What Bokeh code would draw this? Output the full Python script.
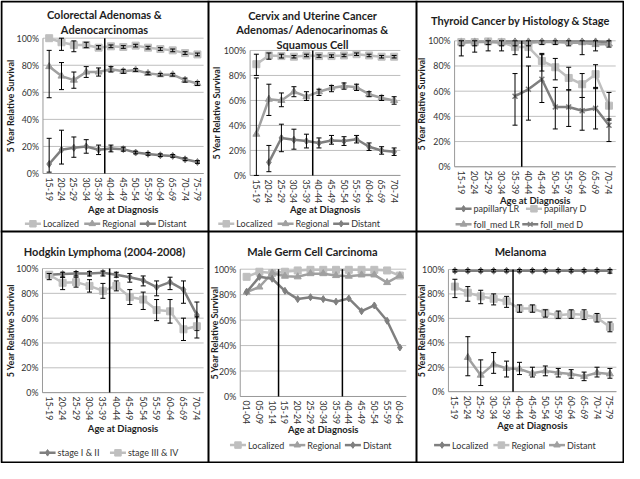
import math
from bokeh.plotting import figure
from bokeh.models import Range1d
from bokeh.core.properties import value
from bokeh.embed import file_html
from bokeh.resources import INLINE

W, H = 624, 463
PW, PH = 208, 231
SX, SY = PW / 213.0, PH / 239.0
FONT = value("Lato")
LIGHT = "#BFBFBF"
MID = "#A0A0A0"
DARK = "#7F7F7F"
GRID = "#BFBFBF"
AXC = "#9A9A9A"
TXT = "#333333"
TTL = "#1E1E1E"

# ---------------- data ----------------
ages_15_79 = ["15-19", "20-24", "25-29", "30-34", "35-39", "40-44", "45-49",
              "50-54", "55-59", "60-64", "65-69", "70-74", "75-79"]
ages_15_74 = ["15-19", "20-24", "25-29", "30-34", "35-39", "40-44", "45-49",
              "50-54", "55-59", "60-64", "65-69", "70-74"]
ages_01_64 = ["01-04", "05-09", "10-14", "15-19", "20-24", "25-29", "30-34",
              "35-39", "40-44", "45-49", "50-54", "55-59", "60-64"]
y_ticks = [0, 20, 40, 60, 80, 100]
y_labels = ["0%", "20%", "40%", "60%", "80%", "100%"]

# Colorectal
cr_loc = [100, 97, 95, 95, 93, 94, 93.5, 94.5, 93, 92, 91, 89, 88]
cr_loc_lo = [None, 91, 90, 93, 92, 93, 92.5, 93.5, 92, 91, 90, 88, 87]
cr_loc_hi = [None, 100, 98, 97, 94.5, 95, 94.5, 95.5, 94, 93, 92, 90, 89]
cr_reg = [79, 72, 69, 75, 75, 77, 75.5, 76.5, 74, 73, 73, 69, 66.5]
cr_reg_lo = [56, 62, 63, 71, 72, 75, 74, 75.5, 73, 72, 72, 67.5, 65]
cr_reg_hi = [91, 82, 75, 79, 78, 79, 77, 77.5, 75, 74, 74, 70.5, 68]
cr_dis = [7, 17.5, 19, 20, 17.5, 18.5, 18, 15.5, 14.5, 13.5, 13, 10.5, 8.5]
cr_dis_lo = [1, 7, 12, 15, 14, 16, 16.5, 14.5, 13.5, 12.5, 12, 9.5, 7.5]
cr_dis_hi = [26, 32, 27, 25, 21, 21, 19.5, 16.5, 15.5, 14.5, 14, 11.5, 9.5]

# Cervix / uterine
cv_loc = [89, 96, 95.5, 95, 96, 95.5, 95.5, 96, 97, 96, 95, 95]
cv_loc_lo = [80, 93, 94, 94, 95, 94.5, 94.5, 95, 96, 95, 94, 94]
cv_loc_hi = [97, 98, 97, 96, 97, 96.5, 96.5, 97, 98, 97, 96, 96]
cv_reg = [33, 61, 60, 67, 63, 67, 70, 71.5, 70.5, 65, 62, 60]
cv_reg_lo = [0, 48, 55, 63, 60, 64, 67, 69, 68, 63, 60, 57]
cv_reg_hi = [78, 73, 66, 71, 67, 69, 72, 74, 73, 67, 64, 63]
cv_dis = [None, 10.5, 30, 28.5, 27.5, 26, 28, 27.5, 29, 23, 20, 19]
cv_dis_lo = [None, 3, 19, 21, 22, 22, 25, 24, 26, 20, 17, 16]
cv_dis_hi = [None, 24, 41, 37, 33, 30, 32, 31, 32, 26, 23, 22]

# Thyroid
th_plr = [99.5, 99.5, 99.5, 99.5, 99.5, 99.5, 99.5, 99.5, 99.5, 99.5, 99.5, 99]
th_pd = [99, 99, 99.5, 99, 95, 95, 84, 79, 70.5, 65.5, 73.5, 48.5]
th_pd_lo = [88, 91, 92, 92, 89, 87, 76, 69, 61, 55, 62, 37]
th_pd_hi = [100, 100, 100, 100, 99, 99, 90, 86, 79, 74, 81, 59]
th_flr = [98.5, 99, 99, 98.5, 98.5, 98.5, 99, 99, 98.5, 98.5, 97, 97.5]
th_flr_lo = [96, 96, 97, 96, 96, 96, 97, 97, 96, 89, 92, 95]
th_flr_hi = [100, 100, 100, 100, 100, 100, 100, 100, 100, 100, 100, 100]
th_fd = [None, None, None, None, 56, 61.5, 69.5, 47.5, 47.5, 44.5, 46.5, 33]
th_fd_lo = [None, None, None, None, 33, 37, 51, 30, 32, 29, 30, 20]
th_fd_hi = [None, None, None, None, 74, 80, 89, 63, 61, 55, 63, 38]

# Hodgkin
hd_12 = [95, 95.5, 96, 96, 96.5, 95, 93, 90.5, 85, 89, 83, 62.5]
hd_12_lo = [93, 93, 94, 94, 94, 93, 89, 86, 78, 83, 72, 50]
hd_12_hi = [97, 97, 97.5, 97.5, 98, 97, 96, 94, 90, 93, 90, 73]
hd_34 = [95, 88.5, 89, 86, 82, 86, 77, 75, 66.5, 65.5, 51, 53.5]
hd_34_lo = [91, 83, 85, 81, 76, 82, 71, 67, 58, 56, 42, 44]
hd_34_hi = [96, 93, 93, 91, 88, 90, 83, 81, 75, 75, 60, 61]

# Male germ cell
mg_loc = [94, 98, 97, 98, 99, 99.5, 99.5, 99.5, 99.5, 99.5, 99.5, 99, 95]
mg_reg = [82, 86, 97, 94.5, 94, 96.5, 96.5, 95, 94.5, 95.5, 95.5, 89.5, 95]
mg_dis = [82, 94, 92.5, 83, 76.5, 78, 76.5, 74.5, 77, 67, 71.5, 59.5, 38.5]

# Melanoma
ml_loc = [99, 99, 99, 99, 99, 99, 99, 99, 99, 99, 99, 99, 99]
ml_loc_lo = [98, 98, 98, 98, 98, 98, 98, 98, 98, 98, 98, 98, 97]
ml_loc_hi = [100, 100, 100, 100, 100, 100, 100, 100, 100, 100, 100, 100, 100]
ml_reg = [86, 81, 78, 76, 74, 68, 68, 64.5, 62.5, 63.5, 63, 60.5, 53]
ml_reg_lo = [77, 74, 72, 71, 69, 65, 65, 61, 60, 60, 59, 57, 49]
ml_reg_hi = [92, 86, 83, 80, 78, 71, 71, 67, 66, 67, 67, 64, 57]
ml_dis = [None, 28, 13.5, 22.5, 19, 18.5, 15, 17, 15.5, 14.5, 12.5, 15.5, 14.5]
ml_dis_lo = [None, 13, 5, 15, 12, 14, 12, 13, 12, 11, 9, 12, 11]
ml_dis_hi = [None, 45, 26, 32, 25, 24, 20, 21, 19, 18, 16, 20, 19]

# ---------------- figure ----------------
p = figure(width=W, height=H, x_range=Range1d(0, W), y_range=Range1d(0, H),
           x_axis_type=None, y_axis_type=None, output_backend="svg",
           toolbar_location=None, min_border=0)
p.outline_line_color = None
p.background_fill_color = "white"
p.border_fill_color = "white"


def Y(ypix):
    return H - ypix


def txt(x, y, s, size="8.8px", bold=False, color=TXT, align="left",
        baseline="middle", angle=0.0, line_height=1.2, **kw):
    p.text(x=x, y=y, text=s, text_font=FONT, text_font_size=size,
           text_font_style="bold" if bold else "normal", text_color=color,
           text_align=align, text_baseline=baseline, angle=angle,
           text_line_height=line_height, **kw)


def add_panel(col, row, lay, title, cats, series, splits, legend_rows):
    ox, oy = col * PW, row * PH
    L, R = ox + lay["L"] * SX, ox + lay["R"] * SX
    T, B = oy + lay["T"] * SY, oy + lay["B"] * SY
    n = len(cats)
    xs = -L * n / (R - L)
    xe = xs + n * W / (R - L)
    s = (B - T) / 100.0
    ys = -(H - B) / s
    ye = ys + H / s
    key = "%d%d" % (col, row)
    p.extra_x_ranges["x" + key] = Range1d(xs, xe)
    p.extra_y_ranges["y" + key] = Range1d(ys, ye)
    kw = dict(x_range_name="x" + key, y_range_name="y" + key)
    xc = [i + 0.5 for i in range(n)]

    # gridlines and axes
    p.segment(x0=[0] * len(y_ticks), x1=[n] * len(y_ticks), y0=y_ticks,
              y1=y_ticks, line_color=GRID, line_width=1, **kw)
    p.segment(x0=[0, 0], y0=[0, 0], x1=[0, n], y1=[y_ticks[-1], 0],
              line_color=AXC, line_width=1, **kw)
    txt([0] * len(y_ticks), y_ticks, y_labels, align="right", x_offset=-4, **kw)
    txt(xc, [0] * n, cats, angle=-math.pi / 2, y_offset=4, **kw)

    # series
    for name, vals, lo, hi, color, marker in series:
        yv = [float("nan") if v is None else v for v in vals]
        p.line(xc, yv, line_color=color, line_width=2.5, **kw)
        p.scatter(xc, yv, marker=marker, size=7, fill_color=color,
                  line_color=color, line_width=1.5 if marker == "x" else 1, **kw)
        if lo is not None:
            idx = [i for i in range(n) if lo[i] is not None]
            ex = [xc[i] for i in idx]
            elo = [lo[i] for i in idx]
            ehi = [hi[i] for i in idx]
            p.segment(x0=ex, y0=elo, x1=ex, y1=ehi, line_color="black",
                      line_width=1, **kw)
            p.scatter(ex, elo, marker="dash", size=5, line_color="black",
                      line_width=1, **kw)
            p.scatter(ex, ehi, marker="dash", size=5, line_color="black",
                      line_width=1, **kw)

    # age-group dividers
    for sp in splits:
        k = cats.index(sp) + 1
        p.segment(x0=[k], y0=[0], x1=[k], y1=[y_ticks[-1]],
                  line_color="black", line_width=1.5, **kw)

    # texts
    txt([ox + PW / 2.0], [Y(oy + lay["title"] * SY)], [title], size="11px",
        bold=True, color=TTL, align="center", baseline="top", line_height=1.12)
    txt([ox + lay["ylab"] * SX], [Y((T + B) / 2.0)], ["5 Year Relative Survival"],
        size="9px", bold=True, color=TTL, align="center", angle=math.pi / 2)
    txt([(L + R) / 2.0], [Y(oy + lay["xlab"] * SY)], ["Age at Diagnosis"],
        size="9.5px", bold=True, color=TTL, align="center")

    # legend
    by_name = {sr[0]: sr for sr in series}
    for r, names in enumerate(legend_rows):
        yy = Y(oy + lay["leg"][r] * SY)
        x = ox + lay["legx"] * SX
        for nm in names:
            _, _, _, _, color, marker = by_name[nm]
            p.segment(x0=[x], y0=[yy], x1=[x + 16], y1=[yy], line_color=color,
                      line_width=2.5)
            p.scatter([x + 8], [yy], marker=marker, size=6.5, fill_color=color,
                      line_color=color, line_width=1.5 if marker == "x" else 1)
            txt([x + 18], [yy], [nm], size="9px")
            x += 18 + 3.7 * len(nm) + 8


add_panel(0, 0, dict(L=43.5, R=208, T=39, B=179, title=8, ylab=10, xlab=216,
                     leg=[231], legx=25),
          "Colorectal Adenomas &\nAdenocarcinomas", ages_15_79, [
              ("Localized", cr_loc, cr_loc_lo, cr_loc_hi, LIGHT, "square"),
              ("Regional", cr_reg, cr_reg_lo, cr_reg_hi, MID, "triangle"),
              ("Distant", cr_dis, cr_dis_lo, cr_dis_hi, DARK, "diamond"),
          ], ["35-39"], [["Localized", "Regional", "Distant"]])

add_panel(1, 0, dict(L=42.6, R=196.5, T=51.7, B=181, title=8.5, ylab=8.5, xlab=216,
                     leg=[231], legx=10),
          "Cervix and Uterine Cancer\nAdenomas/ Adenocarinomas &\nSquamous Cell",
          ages_15_74, [
              ("Localized", cv_loc, cv_loc_lo, cv_loc_hi, LIGHT, "square"),
              ("Regional", cv_reg, cv_reg_lo, cv_reg_hi, MID, "triangle"),
              ("Distant", cv_dis, cv_dis_lo, cv_dis_hi, DARK, "diamond"),
          ], ["35-39"], [["Localized", "Regional", "Distant"]])

add_panel(2, 0, dict(L=39, R=204, T=41.7, B=172, title=13.5, ylab=5, xlab=207,
                     leg=[215.5, 231.5], legx=40),
          "Thyroid Cancer by Histology & Stage", ages_15_74, [
              ("papillary LR", th_plr, None, None, DARK, "diamond"),
              ("papillary D", th_pd, th_pd_lo, th_pd_hi, LIGHT, "square"),
              ("foll_med LR", th_flr, th_flr_lo, th_flr_hi, MID, "triangle"),
              ("foll_med D", th_fd, th_fd_lo, th_fd_hi, DARK, "x"),
          ], ["35-39"], [["papillary LR", "papillary D"], ["foll_med LR", "foll_med D"]])

add_panel(0, 1, dict(L=43, R=208, T=38.3, B=166.7, title=14, ylab=10, xlab=204,
                     leg=[229], legx=40),
          "Hodgkin Lymphoma (2004-2008)", ages_15_74, [
              ("stage I & II", hd_12, hd_12_lo, hd_12_hi, DARK, "diamond"),
              ("stage III & IV", hd_34, hd_34_lo, hd_34_hi, LIGHT, "square"),
          ], ["35-39"], [["stage I & II", "stage III & IV"]])

add_panel(1, 1, dict(L=32.5, R=202.5, T=39, B=170.7, title=13.5, ylab=6, xlab=205,
                     leg=[221], legx=22),
          "Male Germ Cell Carcinoma", ages_01_64, [
              ("Localized", mg_loc, None, None, LIGHT, "square"),
              ("Regional", mg_reg, None, None, MID, "triangle"),
              ("Distant", mg_dis, None, None, DARK, "diamond"),
          ], ["10-14", "35-39"], [["Localized", "Regional", "Distant"]])

add_panel(2, 1, dict(L=32.7, R=204.7, T=39.3, B=165.7, title=13.5, ylab=5, xlab=201,
                     leg=[221], legx=18),
          "Melanoma", ages_15_79, [
              ("Localized", ml_loc, ml_loc_lo, ml_loc_hi, DARK, "diamond"),
              ("Regional", ml_reg, ml_reg_lo, ml_reg_hi, LIGHT, "square"),
              ("Distant", ml_dis, ml_dis_lo, ml_dis_hi, MID, "triangle"),
          ], ["35-39"], [["Localized", "Regional", "Distant"]])

# panel borders
p.quad(left=[1], right=[W - 1], bottom=[1], top=[H - 1], fill_color=None,
       line_color="black", line_width=2)
p.segment(x0=[PW, 2 * PW, 0], y0=[0, 0, Y(PH)], x1=[PW, 2 * PW, W],
          y1=[H, H, Y(PH)], line_color="black", line_width=2)

open("out.html", "w").write(file_html(p, INLINE))
